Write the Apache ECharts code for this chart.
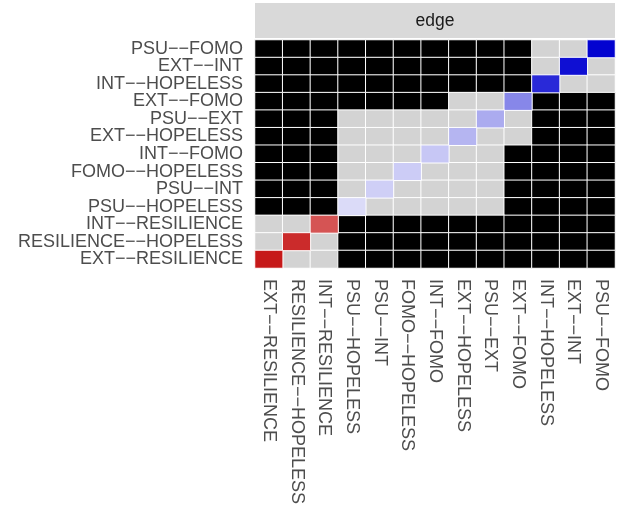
<!DOCTYPE html>
<html>
<head>
<meta charset="utf-8">
<script src="https://cdn.jsdelivr.net/npm/echarts@6/dist/echarts.min.js"></script>
<style>
  html, body { margin: 0; padding: 0; background: #fff; }
  #edge { width: 618px; height: 518px; }
</style>
</head>
<body>
<div id="edge"></div>
<script>
// edge names, same order on both axes (x: left->right, y: bottom->top)
var edges = ['EXT--RESILIENCE', 'RESILIENCE--HOPELESS', 'INT--RESILIENCE', 'PSU--HOPELESS',
  'PSU--INT', 'FOMO--HOPELESS', 'INT--FOMO', 'EXT--HOPELESS', 'PSU--EXT', 'EXT--FOMO',
  'INT--HOPELESS', 'EXT--INT', 'PSU--FOMO'];

// value on the diagonal tile of each edge (red < 0 < blue)
var diagValue = [-0.90, -0.83, -0.67, 0.14, 0.19, 0.20, 0.22, 0.29, 0.33, 0.47, 0.84, 0.94, 0.99];

// off-diagonal tiles, rows as seen from top (PSU--FOMO) to bottom (EXT--RESILIENCE)
// B = black, G = grey, D = diagonal
var tileRows = [
  'BBBBBBBBBBGGD',
  'BBBBBBBBBBGDG',
  'BBBBBBBBBBDGG',
  'BBBBBBBGGDBBB',
  'BBBGGGGGDGBBB',
  'BBBGGGGDGGBBB',
  'BBBGGGDGGBBBB',
  'BBBGGDGGGBBBB',
  'BBBGDGGGGBBBB',
  'BBBDGGGGGBBBB',
  'GGDBBBBBBBBBB',
  'GDGBBBBBBBBBB',
  'DGGBBBBBBBBBB'
];

(function () {

var chart = echarts.init(document.getElementById('edge'));

var n = edges.length;
var offData = [], diagData = [];
tileRows.forEach(function (row, r) {
  var y = n - 1 - r;
  for (var x = 0; x < n; x++) {
    var k = row.charAt(x);
    if (k === 'D') diagData.push([x, y, diagValue[x]]);
    else offData.push([x, y, k === 'G' ? 1 : 0]);
  }
});

var labelFont = 'Liberation Sans, Arial, sans-serif';
// R draws the hyphens as minus signs
var dashes = function (v) { return v.replace(/-/g, '\u2212'); };

option = {
    animation: false,
    grid: {
        left: 255,
        right: 3,
        top: 40,
        bottom: 250
    },
    graphic: [
        {
            type: 'rect',
            shape: { x: 255, y: 3, width: 360, height: 35 },
            style: { fill: '#d9d9d9' }
        },
        {
            type: 'text',
            x: 435,
            y: 21,
            style: {
                text: 'edge',
                fill: '#1a1a1a',
                font: '17.5px ' + labelFont,
                textAlign: 'center',
                textVerticalAlign: 'middle'
            }
        }
    ],
    xAxis: {
        type: 'category',
        data: edges,
        axisLine: { show: false },
        axisTick: { show: false },
        splitLine: { show: false },
        axisLabel: {
            rotate: -90,
            interval: 0,
            margin: 11,
            color: '#4d4d4d',
            fontSize: 18,
            fontFamily: labelFont,
            formatter: dashes
        }
    },
    yAxis: {
        type: 'category',
        data: edges,
        axisLine: { show: false },
        axisTick: { show: false },
        splitLine: { show: false },
        axisLabel: {
            interval: 0,
            margin: 12,
            color: '#4d4d4d',
            fontSize: 18,
            fontFamily: labelFont,
            formatter: dashes
        }
    },
    visualMap: [
        {
            type: 'piecewise',
            show: false,
            seriesIndex: 0,
            dimension: 2,
            pieces: [
                { value: 0, color: '#000000' },
                { value: 1, color: '#d3d3d3' }
            ]
        },
        {
            type: 'continuous',
            show: false,
            seriesIndex: 1,
            dimension: 2,
            min: -1,
            max: 1,
            inRange: { color: ['#c00000', '#ffffff', '#0000d0'] }
        }
    ],
    series: [
        {
            type: 'heatmap',
            data: offData,
            itemStyle: { borderColor: '#ffffff', borderWidth: 1 }
        },
        {
            type: 'heatmap',
            data: diagData,
            itemStyle: { borderColor: '#ffffff', borderWidth: 1 }
        }
    ]
};

chart.setOption(option);
})();
</script>
</body>
</html>
